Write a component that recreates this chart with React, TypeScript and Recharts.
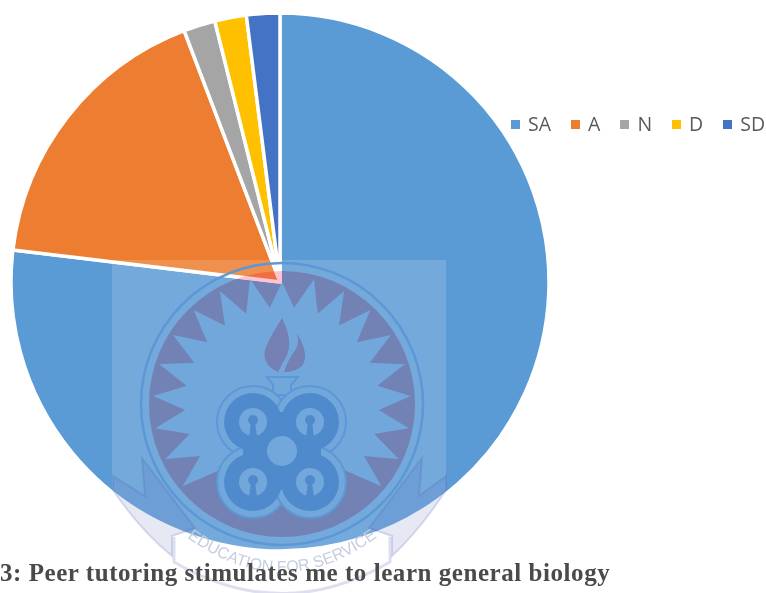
import React from "react";
import { PieChart, Pie, Cell, Legend } from "recharts";

const categories = ["SA", "A", "N", "D", "SD"];
const shares = [76.9, 17.3, 1.9, 1.9, 2];
const colors = ["#5B9BD5", "#ED7D31", "#A5A5A5", "#FFC000", "#4472C4"];
const caption = "3: Peer tutoring stimulates me to learn general biology";
const motto = "EDUCATION FOR SERVICE";

const data = categories.map((name, i) => ({ name, value: shares[i] }));

const LIGHT = "#72A7DC";
const DARK = "#4F8BCC";
const LOGO_X = 282;
const LOGO_Y = 404;

// sunburst behind the crest, open at the bottom
function starPoints(): string {
  const pts: string[] = [];
  const pt = (deg: number, r: number) => {
    const a = (deg * Math.PI) / 180;
    return `${LOGO_X + r * Math.sin(a)},${LOGO_Y - r * Math.cos(a)}`;
  };
  for (let i = -9; i <= 9; i++) {
    const deg = i * 14.4;
    pts.push(pt(deg, i === 0 ? 122 : 129));
    if (i < 9) pts.push(pt(deg + 7.2, 97));
  }
  pts.push(pt(150, 60));
  pts.push(pt(-150, 60));
  return pts.join(" ");
}

function Keyhole({ x, y }: { x: number; y: number }) {
  return (
    <g>
      <circle cx={x} cy={y} r={29} fill={DARK} />
      <circle cx={x} cy={y} r={14} fill={LIGHT} />
      <circle cx={x} cy={y - 2} r={5} fill={DARK} />
      <path d={`M${x - 2} ${y} L${x + 2} ${y} L${x + 4} ${y + 15} L${x - 4} ${y + 15} Z`} fill={DARK} />
    </g>
  );
}

function Watermark() {
  const lobes = [
    [253, 422],
    [310, 422],
    [253, 482],
    [310, 482],
  ];
  return (
    <svg
      width={766}
      height={593}
      style={{ position: "absolute", left: 0, top: 0, pointerEvents: "none" }}
    >
      <rect x={112} y={260} width={334} height={333} fill="#fff" opacity={0.15} />
      {/* ribbon */}
      <g fill="rgba(80,95,175,0.14)" stroke="rgba(80,95,175,0.2)" strokeWidth={2}>
        <path d="M113 476 L145 496 L142 458 L195 528 L172 536 L172 556 Q140 530 113 490 Z" />
        <path d="M446 476 L419 496 L422 458 L369 528 L392 536 L392 556 Q420 530 446 490 Z" />
      </g>
      <path
        d="M174 537 L174 562 Q282 625 390 562 L390 537"
        fill="none"
        stroke="rgba(80,95,175,0.2)"
        strokeWidth={3}
      />
      <path id="mottoArc" d="M180 532 Q282 612 384 532" fill="none" />
      <text fontFamily="Liberation Sans" fontSize={16} fill="#c6cce2">
        <textPath href="#mottoArc" startOffset="4%">
          {motto}
        </textPath>
      </text>
      {/* crest */}
      <circle cx={LOGO_X} cy={LOGO_Y} r={141} fill="none" stroke="#5C97D6" strokeWidth={2.5} />
      <circle cx={LOGO_X} cy={LOGO_Y} r={133} fill="#FFC4D2" style={{ mixBlendMode: "multiply" }} />
      <polygon points={starPoints()} fill={LIGHT} />
      <path d="M282 318 Q296 345 283 362 L278 372 Q262 365 265 350 Q268 340 282 318 Z" fill="#7580B5" />
      <path d="M297 333 Q310 355 302 366 Q295 372 284 372 Q288 360 294 352 Q300 345 297 333 Z" fill="#7580B5" />
      <path d="M267 377 L298 377 L291 385 L291 395 L273 395 L273 385 Z" fill={LIGHT} stroke="#5C97D6" strokeWidth={2} />
      {lobes.map(([x, y]) => (
        <circle key={`${x}-${y}`} cx={x} cy={y} r={36} fill={LIGHT} stroke="#5C97D6" strokeWidth={2} />
      ))}
      <rect x={262} y={430} width={40} height={40} fill={LIGHT} />
      <rect x={265} y={412} width={34} height={78} fill={DARK} />
      <rect x={243} y={433} width={78} height={34} fill={DARK} />
      {lobes.map(([x, y]) => (
        <Keyhole key={`${x}-${y}`} x={x} y={y} />
      ))}
      <circle cx={282} cy={451} r={15} fill={LIGHT} />
      {/* the page caption sits above the image */}
      <text
        x={0}
        y={581}
        fontFamily="Liberation Serif"
        fontWeight="bold"
        fontSize={25}
        letterSpacing={0.55}
        fill="#4a4a4a"
      >
        {caption}
      </text>
    </svg>
  );
}

function LegendRow({ payload }: any) {
  return (
    <div style={{ display: "flex", alignItems: "center", gap: 20 }}>
      {(payload || []).map((p: any) => (
        <div key={p.value} style={{ display: "flex", alignItems: "center" }}>
          <span style={{ width: 9, height: 9, background: p.color, marginRight: 8 }} />
          <span style={{ color: "#595959", fontSize: 19.5, lineHeight: "24px" }}>{p.value}</span>
        </div>
      ))}
    </div>
  );
}

export default function App() {
  return (
    <div
      style={{
        position: "absolute",
        left: 0,
        top: 0,
        width: 766,
        height: 593,
        overflow: "hidden",
        background: "#fff",
        fontFamily: "Open Sans",
      }}
    >
      <PieChart width={766} height={593} margin={{ top: 0, right: 0, bottom: 0, left: 0 }}>
        <Pie
          data={data}
          dataKey="value"
          nameKey="name"
          cx={280}
          cy={282}
          innerRadius={0}
          outerRadius={269}
          startAngle={90}
          endAngle={-270}
          stroke="#fff"
          strokeWidth={3.5}
          isAnimationActive={false}
        >
          {data.map((d, i) => (
            <Cell key={d.name} fill={colors[i]} />
          ))}
        </Pie>
        <Legend
          content={<LegendRow />}
          itemSorter={null}
          wrapperStyle={{ position: "absolute", left: 511, top: 112, width: 255 }}
        />
      </PieChart>
      <Watermark />
    </div>
  );
}
